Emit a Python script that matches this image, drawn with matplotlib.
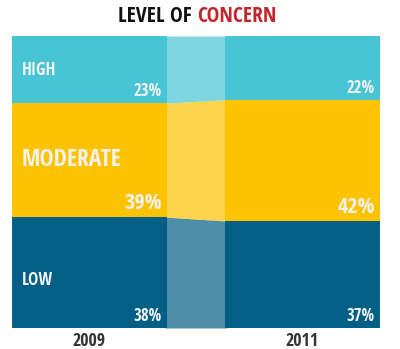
import matplotlib
matplotlib.use('agg')
from matplotlib import pyplot as plt
import numpy as np

years = ['2009', '2011']
levels = ['LOW', 'MODERATE', 'HIGH']
low = [38, 37]
moderate = [39, 42]
high = [23, 22]

COLORS = ['#035f85', '#fdc300', '#48c5d5']
TEXT = '#f2f2f2'

plt.rcParams['font.family'] = ['Open Sans Condensed', 'Open Sans', 'DejaVu Sans']
plt.rcParams['font.weight'] = 'bold'

fig = plt.figure(figsize=(4.0, 3.49), dpi=100)
ax = fig.add_axes([0.03, 0.0602, 0.92, 0.8366])

series = np.array([low, moderate, high], dtype=float)
shares = series / series.sum(axis=0) * 100
bottoms = np.vstack([np.zeros(2), np.cumsum(shares, axis=0)[:-1]])

x = np.arange(len(years))
width = 155 / 213
pad = 0.01
for i in range(len(levels)):
    ax.bar(x, shares[i], width, bottom=bottoms[i], color=COLORS[i],
           linewidth=0, zorder=2)
    # band joining the two bars, tucked slightly under them
    xs = [x[0] + width / 2 - pad, x[1] - width / 2 + pad]
    ax.fill_between(xs, bottoms[i], bottoms[i] + shares[i],
                    color=COLORS[i], alpha=0.7, linewidth=0, zorder=1)

label_shift = {'LOW': -7, 'MODERATE': 0, 'HIGH': 0}
for i, name in enumerate(levels):
    size = 17 if name == 'MODERATE' else 12.5
    ax.annotate(name, (x[0] - width / 2, bottoms[i][0] + shares[i][0] / 2),
                xytext=(10, label_shift[name]), textcoords='offset pixels',
                color=TEXT, fontsize=size, ha='left', va='center', zorder=3)
    for j in range(len(years)):
        size = 16 if name == 'MODERATE' else 12
        ax.annotate(f'{int(series[i][j])}%', (x[j] + width / 2, bottoms[i][j]),
                    xytext=(-5, 3), textcoords='offset pixels',
                    color=TEXT, fontsize=size, ha='right', va='bottom', zorder=3)

ax.set_xlim(x[0] - width / 2, x[1] + width / 2)
ax.set_ylim(0, 100)
ax.axis('off')

for j, year in enumerate(years):
    ax.annotate(year, (x[j], 0), xytext=(0, -13), textcoords='offset pixels',
                color='#333333', fontsize=13, ha='center', va='center')

# two-colour title: place the red word right after the black one
fig.canvas.draw()
renderer = fig.canvas.get_renderer()
t1 = fig.text(0, 0.952, 'LEVEL OF ', color='#111111', fontsize=15.5,
              ha='left', va='center')
t2 = fig.text(0, 0.952, 'CONCERN', color='#c0272d', fontsize=15.5,
              ha='left', va='center')
w1 = t1.get_window_extent(renderer).width / fig.bbox.width
w2 = t2.get_window_extent(renderer).width / fig.bbox.width
start = 0.4925 - (w1 + w2) / 2
t1.set_x(start)
t2.set_x(start + w1)

fig.savefig('out.png', dpi=100)
